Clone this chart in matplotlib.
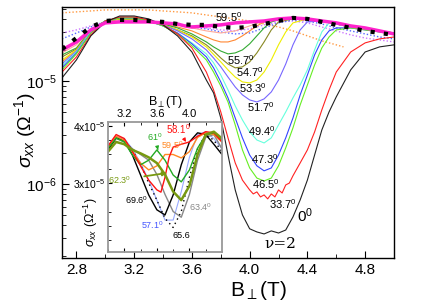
import numpy as np
import matplotlib
matplotlib.use('Agg')
import matplotlib.pyplot as plt
from matplotlib.ticker import LogLocator, MultipleLocator, FixedLocator, NullFormatter, FuncFormatter

plt.rcParams['font.family'] = ['Liberation Sans', 'DejaVu Sans']
plt.rcParams['mathtext.fontset'] = 'custom'
plt.rcParams['mathtext.rm'] = 'Liberation Sans'
plt.rcParams['mathtext.it'] = 'Liberation Sans:italic'
plt.rcParams['mathtext.bf'] = 'Liberation Sans:bold'

E5 = 1e-5
# ---------------- main panel data (B in T, sigma_xx in units of 1e-5 Ohm^-1) -------------
B_0 = [2.7, 2.8, 2.9, 3.0, 3.1, 3.2, 3.3, 3.4, 3.5, 3.6, 3.7, 3.75, 3.8, 3.85, 3.9, 3.95, 4.0, 4.05, 4.1,
       4.15, 4.2, 4.25, 4.3, 4.35, 4.4, 4.45, 4.5, 4.55, 4.6, 4.7, 4.8, 4.9, 5.0]
S_0 = [1.07, 1.60, 2.74, 3.74, 4.27, 4.27, 4.00, 3.50, 2.74, 1.91, 1.02, 0.765, 0.437, 0.191, 0.0875, 0.050,
       0.0367, 0.0342, 0.0327, 0.035, 0.0334, 0.0357, 0.0478, 0.070, 0.109, 0.191, 0.334, 0.50, 0.70, 1.28,
       1.91, 2.14, 2.24]

B_337 = [2.7, 2.8, 2.9, 3.0, 3.1, 3.2, 3.3, 3.4, 3.5, 3.6, 3.7, 3.75, 3.8, 3.85, 3.9, 3.95, 4.0, 4.025, 4.05,
         4.075, 4.1, 4.125, 4.15, 4.175, 4.2, 4.225, 4.25, 4.275, 4.3, 4.35, 4.4, 4.45, 4.5, 4.55, 4.6, 4.7,
         4.8, 4.9, 5.0]
S_337 = [1.22, 1.71, 2.80, 3.82, 4.18, 4.18, 3.91, 3.50, 2.86, 2.09, 1.22, 0.818, 0.50, 0.28, 0.16, 0.109,
         0.0875, 0.080, 0.0837, 0.0748, 0.0782, 0.0716, 0.080, 0.0748, 0.0875, 0.0817, 0.0978, 0.102, 0.12,
         0.16, 0.214, 0.32, 0.523, 0.818, 1.22, 1.91, 2.34, 2.56, 2.67]

B_dip = [2.7, 2.8, 2.9, 3.0, 3.1, 3.2, 3.3, 3.4, 3.5, 3.6, 3.7, 3.75, 3.8, 3.85, 3.9, 3.95, 4.0, 4.05, 4.1,
         4.15, 4.2, 4.25, 4.3, 4.35, 4.4, 4.45, 4.5, 4.55, 4.6, 4.7, 4.8, 4.9, 5.0]
S_465 = [1.28, 1.83, 2.92, 3.82, 4.09, 4.09, 3.82, 3.42, 2.86, 2.19, 1.60, 1.22, 0.894, 0.625, 0.374, 0.214,
         0.143, 0.114, 0.107, 0.114, 0.15, 0.224, 0.35, 0.585, 0.914, 1.43, 2.09, 2.67, 3.13, 3.27, 3.13,
         2.99, 2.86]
S_473 = [1.34, 1.87, 2.92, 3.82, 4.09, 4.09, 3.82, 3.42, 2.92, 2.29, 1.71, 1.34, 0.978, 0.684, 0.437, 0.28,
         0.191, 0.15, 0.134, 0.143, 0.191, 0.28, 0.437, 0.732, 1.14, 1.79, 2.50, 3.06, 3.27, 3.27, 3.13,
         2.99, 2.86]
S_494 = [1.40, 1.91, 2.99, 3.82, 4.09, 4.09, 3.82, 3.42, 2.92, 2.34, 1.83, 1.50, 1.14, 0.818, 0.572, 0.418,
         0.32, 0.267, 0.25, 0.28, 0.374, 0.50, 0.684, 0.914, 1.28, 2.00, 2.99, 3.66, 3.57, 3.34, 3.20, 3.06,
         2.92]

B_517 = [2.7, 2.8, 2.9, 3.0, 3.1, 3.2, 3.3, 3.4, 3.5, 3.6, 3.7, 3.75, 3.8, 3.85, 3.9, 3.95, 4.0, 4.05, 4.1,
         4.15, 4.2, 4.25, 4.3, 4.35, 4.4, 4.5, 4.6, 4.7, 4.8, 4.9, 5.0]
S_517 = [1.46, 1.95, 3.06, 3.82, 4.09, 4.09, 3.82, 3.50, 3.06, 2.56, 2.00, 1.67, 1.37, 1.09, 0.874, 0.732,
         0.654, 0.625, 0.669, 0.782, 1.02, 1.46, 2.24, 3.13, 3.74, 3.82, 3.57, 3.34, 3.20, 3.06, 2.92]

B_533 = [2.7, 2.8, 2.9, 3.0, 3.1, 3.2, 3.3, 3.4, 3.5, 3.6, 3.7, 3.8, 3.85, 3.9, 3.95, 4.0, 4.05, 4.1, 4.15,
         4.2, 4.25, 4.3, 4.4, 4.5, 4.6, 4.7, 4.8, 4.9, 5.0]
S_533 = [1.60, 2.00, 3.06, 3.82, 4.00, 4.00, 3.82, 3.50, 3.13, 2.67, 2.14, 1.53, 1.28, 1.09, 0.978, 0.956,
         1.02, 1.22, 1.60, 2.24, 2.99, 3.66, 4.00, 3.82, 3.57, 3.34, 3.20, 3.06, 2.92]

B_mid = [2.7, 2.8, 2.9, 3.0, 3.1, 3.2, 3.3, 3.4, 3.5, 3.6, 3.7, 3.75, 3.8, 3.85, 3.9, 3.95, 4.0, 4.05, 4.1,
         4.15, 4.2, 4.3, 4.4, 4.5, 4.6, 4.7, 4.8, 4.9, 5.0]
S_547 = [1.71, 2.04, 3.06, 3.82, 4.00, 4.00, 3.82, 3.50, 3.13, 2.74, 2.24, 1.95, 1.67, 1.46, 1.34, 1.37,
         1.53, 1.87, 2.39, 3.13, 3.74, 4.00, 4.00, 3.82, 3.57, 3.34, 3.20, 3.06, 2.92]
S_557 = [1.79, 2.09, 3.13, 3.82, 4.00, 4.00, 3.82, 3.57, 3.27, 2.86, 2.39, 2.14, 1.95, 1.83, 1.87, 2.00,
         2.29, 2.74, 3.27, 3.74, 3.91, 4.00, 4.00, 3.82, 3.57, 3.34, 3.20, 3.06, 2.92]

B_or = [2.7, 2.8, 2.9, 3.0, 3.1, 3.2, 3.3, 3.4, 3.5, 3.6, 3.7, 3.75, 3.8, 3.85, 3.9, 3.95, 4.0, 4.05, 4.1,
        4.2, 4.3, 4.4, 4.5, 4.6, 4.7, 4.8, 4.9, 5.0]
S_or = [1.53, 2.00, 3.06, 3.82, 4.00, 4.00, 3.82, 3.57, 3.34, 3.06, 2.67, 2.50, 2.39, 2.39, 2.50, 2.74,
        3.06, 3.42, 3.74, 4.00, 4.00, 4.00, 3.82, 3.57, 3.34, 3.20, 3.06, 2.92]

B_grid = [2.7, 2.8, 2.9, 3.0, 3.1, 3.2, 3.3, 3.4, 3.5, 3.6, 3.7, 3.8, 3.9, 4.0, 4.1, 4.2, 4.3, 4.4, 4.5,
          4.6, 4.7, 4.8, 4.9, 5.0]
S_salmon = [1.87, 2.24, 3.13, 3.74, 3.91, 3.91, 3.82, 3.66, 3.50, 3.27, 3.06, 2.92, 3.06, 3.42, 3.82, 4.00,
            4.09, 4.00, 3.82, 3.57, 3.34, 3.20, 3.06, 2.92]
S_dotblack = [2.04, 2.61, 3.34, 3.82, 3.91, 3.91, 3.82, 3.74, 3.57, 3.50, 3.50, 3.34, 3.27, 3.34, 3.57,
              3.82, 4.09, 4.00, 3.74, 3.50, 3.27, 3.06, 2.92, 2.80]
S_dotviolet = [2.92, 3.13, 3.42, 3.74, 3.82, 3.82, 3.74, 3.66, 3.57, 3.42, 3.27, 3.13, 3.06, 3.20, 3.50,
               3.74, 3.82, 3.66, 3.34, 3.06, 2.80, 2.61, 2.50, 2.39]
S_dotblue = [2.56, 2.92, 3.34, 3.74, 3.82, 3.82, 3.74, 3.66, 3.50, 3.34, 3.20, 2.99, 2.86, 2.92, 3.27, 3.66,
             3.91, 3.82, 3.57, 3.27, 3.06, 2.86, 2.67, 2.56]

B_595 = [2.7, 2.8, 2.9, 3.0, 3.1, 3.2, 3.3, 3.4, 3.5, 3.55, 3.6, 3.7, 3.8, 3.9, 4.0, 4.1, 4.2, 4.3, 4.4, 4.5,
         4.6, 4.7, 4.8, 4.9, 5.0]
S_595 = [2.00, 2.39, 3.13, 3.66, 3.74, 3.74, 3.74, 3.66, 3.57, 3.42, 3.34, 3.42, 3.50, 3.66, 3.74, 3.82,
         4.00, 4.09, 4.00, 3.82, 3.66, 3.42, 3.27, 3.06, 2.86]

B_dotor = [2.7, 2.8, 2.9, 3.0, 3.1, 3.2, 3.3, 3.4, 3.5, 3.6, 3.7, 3.8, 3.9, 4.0, 4.1, 4.2, 4.3, 4.4, 4.5,
           4.6, 4.65]
S_dotor = [4.58, 4.68, 4.78, 4.89, 4.89, 4.89, 4.89, 4.78, 4.68, 4.58, 4.37, 4.18, 4.00, 3.82, 3.57, 3.34,
           3.06, 2.74, 2.45, 2.24, 2.14]

# ---------------- inset data ----------------
Bi = [3.0, 3.1, 3.2, 3.3, 3.4, 3.5, 3.6, 3.7, 3.8, 3.9, 4.0, 4.1, 4.2, 4.3, 4.4]
Si_696 = [3.58, 3.79, 3.75, 3.49, 3.14, 2.79, 2.53, 2.44, 2.79, 3.32, 3.72, 3.88, 3.85, 3.68, 3.50]
Si_656 = [3.62, 3.80, 3.75, 3.58, 3.32, 3.00, 2.70, 2.38, 2.22, 2.50, 3.10, 3.60, 3.85, 3.75, 3.55]
Si_634 = [3.60, 3.78, 3.72, 3.60, 3.50, 3.40, 3.15, 2.80, 2.50, 2.40, 2.80, 3.40, 3.80, 3.85, 3.60]
Si_571 = [3.65, 3.82, 3.78, 3.60, 3.35, 3.05, 2.70, 2.35, 2.35, 2.85, 3.45, 3.85, 3.90, 3.78, 3.60]
Si_623 = [3.55, 3.72, 3.68, 3.58, 3.52, 3.45, 3.35, 3.15, 2.85, 2.70, 2.95, 3.50, 3.85, 3.90, 3.78]
Si_610 = [3.61, 3.79, 3.72, 3.49, 3.32, 3.40, 3.58, 3.40, 3.14, 3.02, 3.23, 3.61, 3.84, 3.88, 3.75]
Si_595 = [3.62, 3.82, 3.75, 3.55, 3.35, 3.23, 3.30, 3.50, 3.50, 3.44, 3.55, 3.80, 3.88, 3.85, 3.72]
Bi_581 = [3.0, 3.1, 3.2, 3.3, 3.4, 3.5, 3.6, 3.65, 3.7, 3.75, 3.8, 3.9, 4.0, 4.1, 4.2, 4.3, 4.4]
Si_581 = [3.65, 3.85, 3.78, 3.55, 3.30, 3.05, 2.88, 2.84, 3.10, 3.45, 3.63, 3.68, 3.72, 3.82, 3.90, 3.88, 3.72]

def arr(s):
    return np.array(s) * E5

fig = plt.figure(figsize=(4.25, 3.01), dpi=100)
ax = fig.add_axes([62/425, 1-258/301, 332/425, 251/301])

lw = 0.8
ax.plot(B_dotor, arr(S_dotor), color='#ff9940', lw=1.0, ls=(0, (1, 1.5)))
ax.plot(B_grid, arr(S_dotviolet), color='#cc77ff', lw=1.0, ls=(0, (1, 1.5)))
ax.plot(B_grid, arr(S_dotblue), color='#5566ff', lw=1.0, ls=(0, (1, 1.5)))
ax.plot(B_grid, arr(S_salmon), color='#ffaa99', lw=lw)
ax.plot(B_or, arr(S_or), color='#ff8833', lw=lw)
ax.plot(B_mid, arr(S_557), color='#33aa33', lw=lw)
ax.plot(B_mid, arr(S_547), color='#888822', lw=lw)
ax.plot(B_533, arr(S_533), color='#eeee00', lw=lw)
ax.plot(B_517, arr(S_517), color='#7766ff', lw=lw)
ax.plot(B_dip, arr(S_494), color='#66ffdd', lw=lw)
ax.plot(B_dip, arr(S_473), color='#3344ff', lw=lw)
ax.plot(B_dip, arr(S_465), color='#66ee22', lw=lw)
ax.plot(B_337, arr(S_337), color='#ff2222', lw=lw)
ax.plot(B_0, arr(S_0), color='#222222', lw=lw)
ax.plot(B_595, arr(S_595), color='#ff22cc', lw=2.5)
ax.plot(B_grid, arr(S_dotblack), color='black', lw=3, ls=(0, (1, 2.2)), dash_capstyle='butt')

ax.set_yscale('log')
ax.set_xlim(2.7, 5.0)
ax.set_ylim(1.91e-7, 5.22e-5)
ax.xaxis.set_major_locator(FixedLocator([2.8, 3.2, 3.6, 4.0, 4.4, 4.8]))
ax.xaxis.set_minor_locator(FixedLocator([3.0, 3.4, 3.8, 4.2, 4.6]))
ax.xaxis.set_major_formatter(FuncFormatter(lambda v, p: f'{v:.1f}'))
ax.yaxis.set_major_locator(LogLocator(base=10, numticks=10))
ax.yaxis.set_minor_locator(LogLocator(base=10, subs=np.arange(2, 10), numticks=20))
ax.yaxis.set_minor_formatter(NullFormatter())
ax.tick_params(which='both', direction='in', top=False, right=False, labelsize=11)
ax.tick_params(which='major', length=5)
ax.tick_params(which='minor', length=3)
for s in ax.spines.values():
    s.set_linewidth(1.0)

fig.text(258/425, 1-290/301, r'B$_{\perp}$(T)', ha='center', va='center', fontsize=15)
fig.text(25/425, 1-130/301, r'$\sigma_{xx}$ ($\Omega^{-1}$)', rotation=90, ha='center', va='center', fontsize=14)

def axfrac(px, py):
    return ((px-62)/332, (258-py)/251)

main_labels = [('59.5$^0$', 229, 17), ('55.7$^0$', 241, 60), ('54.7$^0$', 250, 72), ('53.3$^0$', 253, 88),
               ('51.7$^0$', 261, 107), ('49.4$^0$', 262, 131), ('47.3$^0$', 265, 159),
               ('46.5$^0$', 266, 184), ('33.7$^0$', 283, 204)]
for t, px, py in main_labels:
    fx, fy = axfrac(px, py)
    ax.text(fx, fy, t, transform=ax.transAxes, ha='center', va='center', fontsize=8)
fx, fy = axfrac(305, 216)
ax.text(fx, fy, '0$^0$', transform=ax.transAxes, ha='center', va='center', fontsize=11)
fx, fy = axfrac(280, 244)
ax.text(fx, fy, 'ν=2', transform=ax.transAxes, ha='center', va='center', fontsize=11,
        family=['DejaVu Serif'])

# ---------------- inset ----------------
axin = fig.add_axes([108/425, 1-252/301, 114/425, 130/301])
axin.set_facecolor('white')
axin.plot(Bi, arr(Si_571), color='#99aaff', lw=0.8)
axin.plot(Bi, arr(Si_634), color='#888888', lw=1.0)
axin.plot(Bi, arr(Si_656), color='black', lw=1.0, ls=(0, (1, 2.5)))
axin.plot(Bi, arr(Si_696), color='black', lw=1.0)
axin.plot(Bi, arr(Si_595), color='#ff8822', lw=1.0)
axin.plot(Bi, arr(Si_610), color='#22aa22', lw=1.0)
axin.plot(Bi_581, arr(Si_581), color='#ff1111', lw=1.0)
axin.plot(Bi, arr(Si_623), color='#779911', lw=1.8)
axin.set_xlim(3.0, 4.4)
axin.set_ylim(1.79e-5, 4.07e-5)
axin.xaxis.set_major_locator(FixedLocator([3.2, 3.6, 4.0]))
axin.xaxis.set_minor_locator(FixedLocator([3.0, 3.4, 3.8, 4.2]))
axin.xaxis.set_major_formatter(FuncFormatter(lambda v, p: f'{v:.1f}'))
axin.yaxis.set_major_locator(FixedLocator([3e-5, 4e-5]))
axin.yaxis.set_minor_locator(MultipleLocator(0.25e-5))
axin.yaxis.set_major_formatter(FuncFormatter(lambda v, p: f'{v/1e-5:.0f}x10$^{{-5}}$'))
axin.tick_params(axis='x', which='both', direction='in', top=True, bottom=True, labeltop=True,
                 labelbottom=False, labelsize=8, pad=2)
axin.tick_params(axis='y', which='both', direction='in', left=True, right=False, labelsize=7.5, pad=2)
axin.tick_params(which='major', length=3)
axin.tick_params(which='minor', length=2)
for s in axin.spines.values():
    s.set_color('#999999')
    s.set_linewidth(1.3)
axin.xaxis.set_label_position('top')
axin.set_xlabel(r'B$_{\perp}$(T)', fontsize=9, labelpad=3)
fig.text(91/425, 1-222/301, r'$\sigma_{xx}$ ($\Omega^{-1}$)', rotation=90, ha='center', va='center', fontsize=9)

def infrac(px, py):
    return ((px-108)/114, (252-py)/130)

fs_in = 6.5
axin.annotate('58.1$^0$', xy=infrac(186, 142), xytext=infrac(178, 129), xycoords='axes fraction',
              textcoords='axes fraction', color='#ff1111', fontsize=7, ha='center', va='center',
              arrowprops=dict(arrowstyle='-|>', color='#ff1111', lw=0.8, mutation_scale=5, shrinkA=3, shrinkB=0))
axin.annotate('61$^0$', xy=infrac(158, 150), xytext=infrac(155, 137), xycoords='axes fraction',
              textcoords='axes fraction', color='#22aa22', fontsize=fs_in, ha='center', va='center',
              arrowprops=dict(arrowstyle='-|>', color='#22aa22', lw=0.8, mutation_scale=5, shrinkA=3, shrinkB=0))
axin.annotate('62.3$^0$', xy=infrac(167, 173), xytext=infrac(119, 180), xycoords='axes fraction',
              textcoords='axes fraction', color='#779911', fontsize=fs_in, ha='center', va='center',
              arrowprops=dict(arrowstyle='-|>', color='#779911', lw=1.3, mutation_scale=6, shrinkA=8, shrinkB=0))
for t, px, py, c in [('59.5$^0$', 172, 145, '#ff8822'), ('69.6$^0$', 136, 200, 'black'),
                     ('63.4$^0$', 200, 207, '#888888'), ('57.1$^0$', 152, 225, '#4455ff'),
                     ('65.6', 181, 236, 'black')]:
    fx, fy = infrac(px, py)
    axin.text(fx, fy, t, transform=axin.transAxes, color=c, fontsize=fs_in, ha='center', va='center')

fig.savefig('out.png', dpi=100)
